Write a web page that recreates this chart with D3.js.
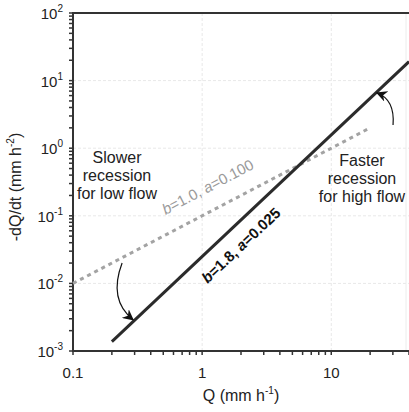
<!DOCTYPE html>
<html lang="en">
<head>
<meta charset="UTF-8">
<title>Recession plot</title>
<script src="https://cdn.jsdelivr.net/npm/d3@7/dist/d3.min.js"></script>
<style>
    body { margin: 0; background: #fff; }
    svg { display: block; font-family: "Liberation Sans", Arial, sans-serif; }
</style>
</head>
<body>
<svg id="chart" width="409" height="412"></svg>
<script>
// chart values
const xTicks = [0.1, 1, 10];
const xTickLabels = ['0.1', '1', '10'];
const yExponents = [-3, -2, -1, 0, 1, 2];

// fast line: b=1.8, a=0.025 (end points)
const fastQ = [0.2, 40];
const fastRate = [0.00138, 19.1];
// slow line: b=1.0, a=0.100
const slowQ = [0.1, 20];
const slowRate = [0.01, 2];

// annotation arrows: [start, control, end] in data units
const arrowLow = [[0.24, 0.020], [0.187, 0.0057], [0.292, 0.0029]];
const arrowHigh = [[30.1, 2.2], [31.2, 5.2], [22.6, 6.6]];

const svg = d3.select('#chart');
const pLeft = 73, pRight = 409, pTop = 13, pBottom = 351;

const x = d3.scaleLog().domain([0.1, 40]).range([pLeft, pRight]);
const y = d3.scaleLog().domain([0.001, 100]).range([pBottom, pTop]);

// faint dashed grid at the decades
const grid = svg.append('g');
grid.selectAll('line.vx').data([1, 10]).enter().append('line')
    .attr('x1', d => x(d)).attr('x2', d => x(d))
    .attr('y1', pTop).attr('y2', pBottom)
    .attr('stroke', '#e8e8e8').attr('stroke-dasharray', '3,2');
grid.selectAll('line.hy').data(yExponents.slice(1, -1)).enter().append('line')
    .attr('x1', pLeft).attr('x2', pRight)
    .attr('y1', d => y(Math.pow(10, d))).attr('y2', d => y(Math.pow(10, d)))
    .attr('stroke', '#e8e8e8').attr('stroke-dasharray', '3,2');
grid.append('line')
    .attr('x1', pRight - 3).attr('x2', pRight - 3)
    .attr('y1', pTop).attr('y2', pBottom)
    .attr('stroke', '#ececec');

// minor ticks
const xMinor = [];
for (let e = -1; e <= 1; e++) for (let m = 1; m <= 9; m++) {
    const v = m * Math.pow(10, e);
    if (v <= 40) xMinor.push(v);
}
const yMinor = [];
for (let e = -3; e <= 1; e++) for (let m = 1; m <= 9; m++) yMinor.push(m * Math.pow(10, e));
yMinor.push(100);

const axisColor = '#333';
svg.append('g').selectAll('line').data(xMinor).enter().append('line')
    .attr('x1', d => x(d)).attr('x2', d => x(d))
    .attr('y1', pBottom).attr('y2', pBottom + 4)
    .attr('stroke', axisColor).attr('stroke-width', 1.5);
svg.append('g').selectAll('line').data(yMinor).enter().append('line')
    .attr('x1', pLeft - 4).attr('x2', pLeft)
    .attr('y1', d => y(d)).attr('y2', d => y(d))
    .attr('stroke', axisColor).attr('stroke-width', 1.5);

// axis lines + top frame
svg.append('line').attr('x1', pLeft).attr('x2', pLeft).attr('y1', pTop - 1).attr('y2', pBottom + 1)
    .attr('stroke', axisColor).attr('stroke-width', 2);
svg.append('line').attr('x1', pLeft - 1).attr('x2', pRight).attr('y1', pBottom).attr('y2', pBottom)
    .attr('stroke', axisColor).attr('stroke-width', 2);
svg.append('line').attr('x1', pLeft - 1).attr('x2', pRight).attr('y1', pTop).attr('y2', pTop)
    .attr('stroke', axisColor).attr('stroke-width', 2);

// tick labels
svg.append('g').selectAll('text').data(xTicks).enter().append('text')
    .attr('x', d => x(d)).attr('y', pBottom + 27)
    .attr('text-anchor', 'middle').attr('font-size', 15).attr('fill', '#222')
    .text((d, i) => xTickLabels[i]);

const yl = svg.append('g').selectAll('text').data(yExponents).enter().append('text')
    .attr('x', pLeft - 10).attr('y', d => y(Math.pow(10, d)) + 6)
    .attr('text-anchor', 'end').attr('font-size', 15).attr('fill', '#222');
yl.append('tspan').text('10');
yl.append('tspan').attr('font-size', 10).attr('dy', -7).text(d => d);

// axis titles
const xt = svg.append('text').attr('x', (pLeft + pRight) / 2).attr('y', 401)
    .attr('text-anchor', 'middle').attr('font-size', 16).attr('fill', '#222');
xt.append('tspan').text('Q (mm h');
xt.append('tspan').attr('font-size', 10).attr('dy', -7).text('-1');
xt.append('tspan').attr('dy', 7).text(')');

const yt = svg.append('text').attr('transform', 'translate(21,187) rotate(-90)')
    .attr('text-anchor', 'middle').attr('font-size', 16).attr('fill', '#222');
yt.append('tspan').text('-dQ/dt (mm h');
yt.append('tspan').attr('font-size', 10).attr('dy', -7).text('-2');
yt.append('tspan').attr('dy', 7).text(')');

// lines
const line = d3.line().x(d => x(d[0])).y(d => y(d[1]));
svg.append('path').datum(d3.zip(slowQ, slowRate)).attr('d', line)
    .attr('fill', 'none').attr('stroke', '#a3a3a3').attr('stroke-width', 3)
    .attr('stroke-dasharray', '4,4');
svg.append('path').datum(d3.zip(fastQ, fastRate)).attr('d', line)
    .attr('fill', 'none').attr('stroke', '#2b2b2b').attr('stroke-width', 3);

// line labels rotated along the lines
function angleOf(qs, rs) {
    const dx = x(qs[1]) - x(qs[0]), dy = y(rs[1]) - y(rs[0]);
    return Math.atan2(dy, dx) * 180 / Math.PI;
}
function lineLabel(q, r, ang, parts, opts) {
    const t = svg.append('text')
        .attr('transform', `translate(${x(q)},${y(r)}) rotate(${ang})`)
        .attr('font-size', opts.size).attr('fill', opts.color)
        .attr('font-weight', opts.weight);
    parts.forEach(p => t.append('tspan').attr('font-style', p[1] ? 'italic' : null).text(p[0]));
}
lineLabel(0.52, 0.103, angleOf(slowQ, slowRate),
    [['b', true], ['=1.0, ', false], ['a', true], ['=0.100', false]],
    { size: 15, color: '#9a9a9a', weight: 'normal' });
lineLabel(1.1, 0.0098, angleOf(fastQ, fastRate),
    [['b', true], ['=1.8, ', false], ['a', true], ['=0.025', false]],
    { size: 15, color: '#111', weight: 'bold' });

// annotation text
function block(cx, cy, lines) {
    const t = svg.append('text').attr('text-anchor', 'middle').attr('font-size', 16).attr('fill', '#222');
    lines.forEach((s, i) => t.append('tspan').attr('x', cx).attr('y', cy + i * 18).text(s));
}
block(117, 163, ['Slower', 'recession', 'for low flow']);
block(362, 166, ['Faster', 'recession', 'for high flow']);

// curved arrows
svg.append('defs').append('marker')
    .attr('id', 'head').attr('viewBox', '0 0 10 10').attr('refX', 9).attr('refY', 5)
    .attr('markerWidth', 11).attr('markerHeight', 11).attr('markerUnits', 'userSpaceOnUse')
    .attr('orient', 'auto')
    .append('path').attr('d', 'M0,0 L10,5 L0,10 L3,5 Z').attr('fill', '#111');

function arrow(pts) {
    const p = pts.map(d => [x(d[0]), y(d[1])]);
    svg.append('path')
        .attr('d', `M${p[0][0]},${p[0][1]} Q${p[1][0]},${p[1][1]} ${p[2][0]},${p[2][1]}`)
        .attr('fill', 'none').attr('stroke', '#111').attr('stroke-width', 1.2)
        .attr('marker-end', 'url(#head)');
}
arrow(arrowLow);
arrow(arrowHigh);
</script>
</body>
</html>
